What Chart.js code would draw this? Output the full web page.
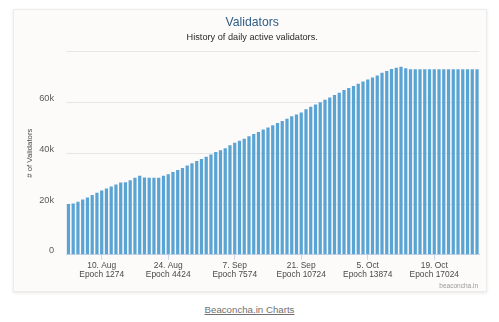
<!DOCTYPE html>
<html>
<head>
<meta charset="utf-8">
<title>Validators</title>
<script src="https://cdn.jsdelivr.net/npm/chart.js@4"></script>
<style>
  html, body { margin: 0; padding: 0; background: #ffffff; }
  body { width: 499px; height: 322px; position: relative; overflow: hidden;
         font-family: "Liberation Sans", Arial, sans-serif; }
  .card { position: absolute; left: 13px; top: 9px; width: 472px; height: 281px;
          background: #fdfafa; border: 1px solid #ececec;
          box-shadow: 0 1px 3px rgba(0,0,0,0.10); }
  .card canvas { position: absolute; left: 0; top: 0; }
  .source { position: absolute; left: 0; width: 499px; top: 304px; text-align: center;
            font-size: 9.7px; }
  .source a { color: #707070; text-decoration: underline; }
</style>
</head>
<body>
<div class="card"><canvas id="chart" width="472" height="281"></canvas></div>
<div class="source"><a href="#">Beaconcha.in Charts</a></div>
<script>
// Daily active validators, one bar per day starting 3 Aug 2020
const startDate = '2020-08-03';
const activeValidators = [
  20000, 20200, 20900, 21800, 22600, 23500, 24400, 25300, 26100, 26900,
  27700, 28500, 28600, 29400, 30300, 31100, 30400, 30300, 30300, 30300,
  31100, 31700, 32600, 33400, 34200, 35200, 36100, 36900, 37700, 38600,
  39500, 40500, 41200, 42000, 43100, 44100, 44900, 45700, 46700, 47600,
  48400, 49300, 50100, 51000, 51900, 52700, 53600, 54600, 55300, 56000,
  57300, 58300, 59200, 60100, 61100, 62000, 62900, 63800, 64900, 65700,
  66500, 67400, 68300, 69000, 69800, 70600, 71700, 72400, 73200, 73700,
  74100, 73500, 73100, 73100, 73100, 73100, 73100, 73100, 73100, 73100,
  73100, 73100, 73100, 73100, 73100, 73100, 73100
];

// Labelled x-axis positions: date and matching epoch
const tickDays = ['10. Aug', '24. Aug', '7. Sep', '21. Sep', '5. Oct', '19. Oct'];
const tickEpochs = [1274, 4424, 7574, 10724, 13874, 17024];

// Y-axis tick values
const yTicks = [0, 20000, 40000, 60000, 80000];

const monthNames = ['Jan','Feb','Mar','Apr','May','Jun','Jul','Aug','Sep','Oct','Nov','Dec'];
const days = activeValidators.map((_, i) => {
  const d = new Date(startDate + 'T00:00:00Z');
  d.setUTCDate(d.getUTCDate() + i);
  return d.getUTCDate() + '. ' + monthNames[d.getUTCMonth()];
});
const tickIndex = tickDays.map(t => days.indexOf(t));

const FONT = '"Liberation Sans", Arial, sans-serif';

const credits = {
  id: 'credits',
  afterDraw(chart) {
    const ctx = chart.ctx;
    ctx.save();
    ctx.font = '6.5px ' + FONT;
    ctx.fillStyle = '#999999';
    ctx.textAlign = 'right';
    ctx.textBaseline = 'middle';
    ctx.fillText('beaconcha.in', chart.width - 8, 276);
    ctx.restore();
  }
};

new Chart(document.getElementById('chart'), {
  type: 'bar',
  data: {
    labels: days,
    datasets: [{
      label: 'Validators',
      data: activeValidators,
      backgroundColor: '#5aa4d4',
      borderWidth: 0,
      categoryPercentage: 1,
      barPercentage: 0.68
    }]
  },
  options: {
    responsive: false,
    animation: false,
    layout: { padding: { left: 11, right: 6.6, top: 0, bottom: 10.4 } },
    plugins: {
      legend: { display: false },
      tooltip: { enabled: false },
      title: {
        display: true,
        text: 'Validators',
        color: '#2e5f86',
        font: { family: FONT, size: 12.2, weight: 'normal', lineHeight: 1.2 },
        padding: { top: 5.4, bottom: 0 }
      },
      subtitle: {
        display: true,
        text: 'History of daily active validators.',
        color: '#2a2a2a',
        font: { family: FONT, size: 9.2, weight: 'normal', lineHeight: 1.2 },
        padding: { top: 2.2, bottom: 8.4 }
      }
    },
    scales: {
      x: {
        offset: true,
        afterBuildTicks(scale) {
          scale.ticks = tickIndex.map(i => ({ value: i }));
        },
        grid: {
          offset: false,
          drawOnChartArea: false,
          drawTicks: true,
          tickLength: 5,
          tickColor: '#ccd6eb'
        },
        border: { display: true, color: '#ccd6eb' },
        ticks: {
          autoSkip: false,
          maxRotation: 0,
          padding: 1,
          color: '#4a4a4a',
          font: { family: FONT, size: 8.4, lineHeight: 1.12 },
          callback(value) {
            const k = tickIndex.indexOf(value);
            return k < 0 ? '' : [tickDays[k], 'Epoch ' + tickEpochs[k]];
          }
        }
      },
      y: {
        min: 0,
        max: 80000,
        afterBuildTicks(scale) {
          scale.ticks = yTicks.map(v => ({ value: v }));
        },
        afterFit(scale) { scale.width = 41.07; },
        grid: { color: '#e6e6e6', drawTicks: false },
        border: { display: false },
        title: {
          display: true,
          text: '# of Validators',
          color: '#4a4a4a',
          font: { family: FONT, size: 7.8 },
          padding: 0
        },
        ticks: {
          padding: 12,
          labelOffset: -4,
          color: '#5a5a5a',
          font: { family: FONT, size: 9.2 },
          callback(v) {
            if (v === 80000) return '';
            return v === 0 ? '0' : (v / 1000) + 'k';
          }
        }
      }
    }
  },
  plugins: [credits]
});
</script>
</body>
</html>
